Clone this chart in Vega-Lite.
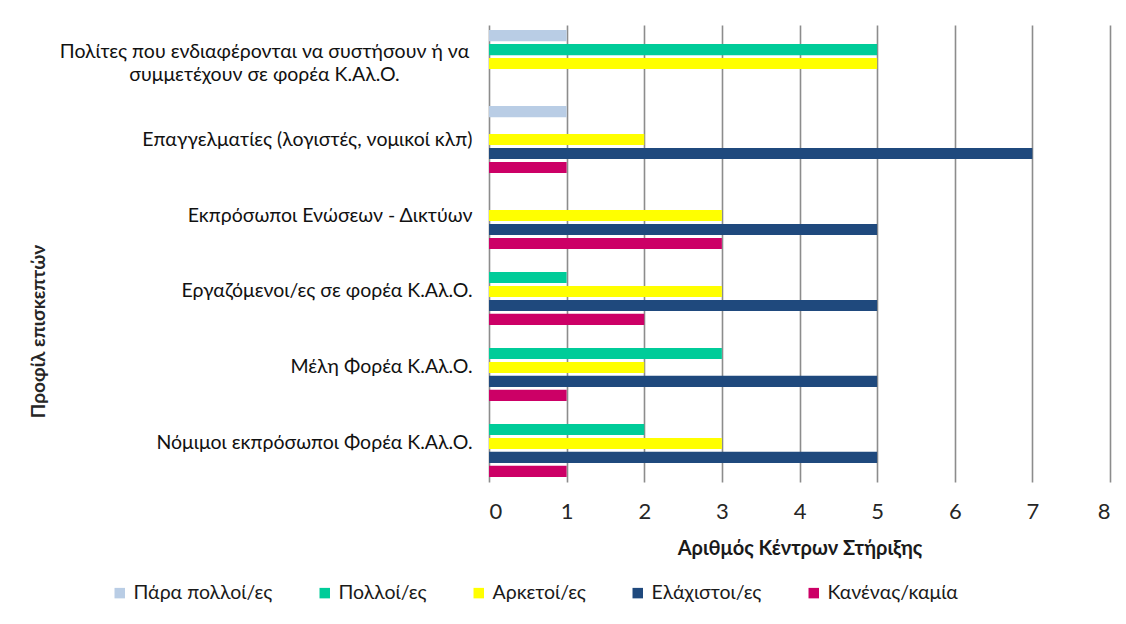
{
  "$schema": "https://vega.github.io/schema/vega-lite/v6.json",
  "width": 621,
  "height": 457,
  "autosize": {"type": "none"},
  "padding": {"left": 489, "top": 25, "right": 16, "bottom": 142},
  "background": "white",
  "data": {
    "values": [
      {"category": "Πολίτες που ενδιαφέρονται να συστήσουν ή να συμμετέχουν σε φορέα Κ.Αλ.Ο.", "level": "Πάρα πολλοί/ες", "value": 1},
      {"category": "Πολίτες που ενδιαφέρονται να συστήσουν ή να συμμετέχουν σε φορέα Κ.Αλ.Ο.", "level": "Πολλοί/ες", "value": 5},
      {"category": "Πολίτες που ενδιαφέρονται να συστήσουν ή να συμμετέχουν σε φορέα Κ.Αλ.Ο.", "level": "Αρκετοί/ες", "value": 5},
      {"category": "Πολίτες που ενδιαφέρονται να συστήσουν ή να συμμετέχουν σε φορέα Κ.Αλ.Ο.", "level": "Ελάχιστοι/ες", "value": 0},
      {"category": "Πολίτες που ενδιαφέρονται να συστήσουν ή να συμμετέχουν σε φορέα Κ.Αλ.Ο.", "level": "Κανένας/καμία", "value": 0},
      {"category": "Επαγγελματίες (λογιστές, νομικοί κλπ)", "level": "Πάρα πολλοί/ες", "value": 1},
      {"category": "Επαγγελματίες (λογιστές, νομικοί κλπ)", "level": "Πολλοί/ες", "value": 0},
      {"category": "Επαγγελματίες (λογιστές, νομικοί κλπ)", "level": "Αρκετοί/ες", "value": 2},
      {"category": "Επαγγελματίες (λογιστές, νομικοί κλπ)", "level": "Ελάχιστοι/ες", "value": 7},
      {"category": "Επαγγελματίες (λογιστές, νομικοί κλπ)", "level": "Κανένας/καμία", "value": 1},
      {"category": "Εκπρόσωποι Ενώσεων - Δικτύων", "level": "Πάρα πολλοί/ες", "value": 0},
      {"category": "Εκπρόσωποι Ενώσεων - Δικτύων", "level": "Πολλοί/ες", "value": 0},
      {"category": "Εκπρόσωποι Ενώσεων - Δικτύων", "level": "Αρκετοί/ες", "value": 3},
      {"category": "Εκπρόσωποι Ενώσεων - Δικτύων", "level": "Ελάχιστοι/ες", "value": 5},
      {"category": "Εκπρόσωποι Ενώσεων - Δικτύων", "level": "Κανένας/καμία", "value": 3},
      {"category": "Εργαζόμενοι/ες σε φορέα Κ.Αλ.Ο.", "level": "Πάρα πολλοί/ες", "value": 0},
      {"category": "Εργαζόμενοι/ες σε φορέα Κ.Αλ.Ο.", "level": "Πολλοί/ες", "value": 1},
      {"category": "Εργαζόμενοι/ες σε φορέα Κ.Αλ.Ο.", "level": "Αρκετοί/ες", "value": 3},
      {"category": "Εργαζόμενοι/ες σε φορέα Κ.Αλ.Ο.", "level": "Ελάχιστοι/ες", "value": 5},
      {"category": "Εργαζόμενοι/ες σε φορέα Κ.Αλ.Ο.", "level": "Κανένας/καμία", "value": 2},
      {"category": "Μέλη Φορέα Κ.Αλ.Ο.", "level": "Πάρα πολλοί/ες", "value": 0},
      {"category": "Μέλη Φορέα Κ.Αλ.Ο.", "level": "Πολλοί/ες", "value": 3},
      {"category": "Μέλη Φορέα Κ.Αλ.Ο.", "level": "Αρκετοί/ες", "value": 2},
      {"category": "Μέλη Φορέα Κ.Αλ.Ο.", "level": "Ελάχιστοι/ες", "value": 5},
      {"category": "Μέλη Φορέα Κ.Αλ.Ο.", "level": "Κανένας/καμία", "value": 1},
      {"category": "Νόμιμοι εκπρόσωποι Φορέα Κ.Αλ.Ο.", "level": "Πάρα πολλοί/ες", "value": 0},
      {"category": "Νόμιμοι εκπρόσωποι Φορέα Κ.Αλ.Ο.", "level": "Πολλοί/ες", "value": 2},
      {"category": "Νόμιμοι εκπρόσωποι Φορέα Κ.Αλ.Ο.", "level": "Αρκετοί/ες", "value": 3},
      {"category": "Νόμιμοι εκπρόσωποι Φορέα Κ.Αλ.Ο.", "level": "Ελάχιστοι/ες", "value": 5},
      {"category": "Νόμιμοι εκπρόσωποι Φορέα Κ.Αλ.Ο.", "level": "Κανένας/καμία", "value": 1}
    ]
  },
  "mark": {"type": "bar"},
  "encoding": {
    "y": {
      "field": "category",
      "type": "nominal",
      "sort": [
        "Πολίτες που ενδιαφέρονται να συστήσουν ή να συμμετέχουν σε φορέα Κ.Αλ.Ο.",
        "Επαγγελματίες (λογιστές, νομικοί κλπ)",
        "Εκπρόσωποι Ενώσεων - Δικτύων",
        "Εργαζόμενοι/ες σε φορέα Κ.Αλ.Ο.",
        "Μέλη Φορέα Κ.Αλ.Ο.",
        "Νόμιμοι εκπρόσωποι Φορέα Κ.Αλ.Ο."
      ],
      "scale": {"paddingInner": 0.08, "paddingOuter": 0.047},
      "axis": {
        "title": "Προφίλ επισκεπτών",
        "titleFont": "Lato",
        "titleFontSize": 19,
        "titleFontWeight": "bold",
        "titleColor": "#262626",
        "titleX": -451,
        "titleY": 306,
        "titleAlign": "center",
        "titleBaseline": "middle",
        "titleAngle": 270,
        "labelFont": "Lato",
        "labelFontSize": 19.5,
        "labelColor": "#111111",
        "labelPadding": {"condition": {"test": "indexof(datum.value, 'Πολίτες') == 0", "value": 225}, "value": 17},
        "labelAlign": {"condition": {"test": "indexof(datum.value, 'Πολίτες') == 0", "value": "center"}, "value": "right"},
        "labelOffset": {"condition": {"test": "indexof(datum.value, 'Πολίτες') == 0", "value": -12}, "value": 0},
        "labelLimit": 0,
        "labelLineHeight": 23,
        "labelExpr": "indexof(datum.value, 'Πολίτες') == 0 ? ['Πολίτες που ενδιαφέρονται να συστήσουν ή να', 'συμμετέχουν σε φορέα Κ.Αλ.Ο.'] : datum.value",
        "ticks": false,
        "domain": false,
        "grid": false
      }
    },
    "yOffset": {
      "field": "level",
      "type": "nominal",
      "sort": ["Πάρα πολλοί/ες", "Πολλοί/ες", "Αρκετοί/ες", "Ελάχιστοι/ες", "Κανένας/καμία"],
      "scale": {"paddingInner": 0.2, "paddingOuter": 0.1}
    },
    "x": {
      "field": "value",
      "type": "quantitative",
      "scale": {"domain": [0, 8], "nice": false},
      "axis": {
        "values": [0, 1, 2, 3, 4, 5, 6, 7, 8],
        "grid": true,
        "gridColor": "#8c8c8c",
        "gridWidth": 1.6,
        "ticks": false,
        "domain": false,
        "labelFont": "Lato",
        "labelFontSize": 22,
        "labelColor": "#262626",
        "labelPadding": 19,
        "title": "Αριθμός Κέντρων Στήριξης",
        "titleFont": "Lato",
        "titleFontSize": 20,
        "titleFontWeight": "bold",
        "titleColor": "#1a1a1a",
        "titlePadding": 16
      }
    },
    "color": {
      "field": "level",
      "type": "nominal",
      "sort": ["Πάρα πολλοί/ες", "Πολλοί/ες", "Αρκετοί/ες", "Ελάχιστοι/ες", "Κανένας/καμία"],
      "scale": {
        "domain": ["Πάρα πολλοί/ες", "Πολλοί/ες", "Αρκετοί/ες", "Ελάχιστοι/ες", "Κανένας/καμία"],
        "range": ["#b9cde5", "#00cc99", "#ffff00", "#1f497d", "#cc0066"]
      },
      "legend": {
        "title": null,
        "orient": "none",
        "legendX": -379,
        "legendY": 558,
        "direction": "horizontal",
        "columns": 5,
        "columnPadding": 42,
        "symbolType": "square",
        "symbolSize": 110,
        "symbolStrokeWidth": 0,
        "labelFont": "Lato",
        "labelFontSize": 19.5,
        "labelColor": "#1a1a1a",
        "labelOffset": 4,
        "labelLimit": 0
      }
    }
  },
  "config": {"view": {"stroke": null}}
}
